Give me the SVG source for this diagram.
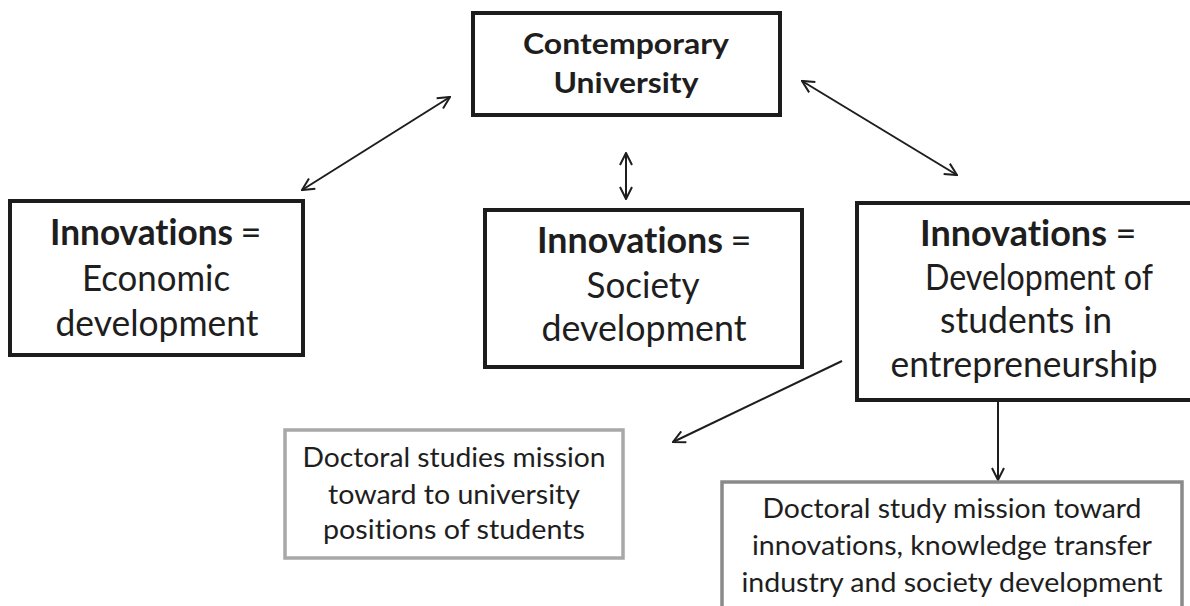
<svg xmlns="http://www.w3.org/2000/svg" width="1190" height="606" viewBox="0 0 1190 606">
<style>
.box{fill:#fff;stroke:#1c1c1c;stroke-width:4}
.gbox1{fill:#fff;stroke:#a8a8a8;stroke-width:3.5}
.gbox2{fill:#fff;stroke:#8a8a8a;stroke-width:3.5}
text{font-family:Lato,"Open Sans","Liberation Sans",sans-serif;fill:#1e1e1e;text-anchor:middle;font-variant-ligatures:none;font-feature-settings:"liga" 0}
.big{font-size:36px}
.top{font-size:28px;font-weight:bold}
.sm{font-size:26px}
.b{font-weight:bold;text-anchor:start}
.conn{stroke:#1e1e1e;stroke-width:2;fill:none}
</style>
<defs>
<marker id="ah" viewBox="0 0 14 14" refX="13" refY="7" markerWidth="14" markerHeight="14" markerUnits="userSpaceOnUse" orient="auto-start-reverse">
<path d="M1,1 L13,7 L1,13" fill="none" stroke="#1e1e1e" stroke-width="2"/>
</marker>
</defs>
<g id="connectors">
<line class="conn" x1="302" y1="190" x2="450" y2="97" marker-start="url(#ah)" marker-end="url(#ah)"/>
<line class="conn" x1="802" y1="81" x2="957" y2="175" marker-start="url(#ah)" marker-end="url(#ah)"/>
<line class="conn" x1="626" y1="153" x2="626" y2="199" marker-start="url(#ah)" marker-end="url(#ah)"/>
<line class="conn" x1="842" y1="361" x2="673" y2="442" marker-end="url(#ah)"/>
<line class="conn" x1="998" y1="402" x2="998" y2="480" marker-end="url(#ah)"/>
</g>
<g id="university">
<rect class="box" x="473" y="13" width="307" height="102"/>
<text class="top" x="626" y="54" textLength="206" lengthAdjust="spacingAndGlyphs">Contemporary</text>
<text class="top" x="626" y="93" textLength="145" lengthAdjust="spacingAndGlyphs">University</text>
</g>
<g id="economic">
<rect class="box" x="10" y="201" width="293" height="154"/>
<text class="big b" x="50" y="245" textLength="183" lengthAdjust="spacingAndGlyphs">Innovations</text>
<text class="big" x="251" y="245">=</text>
<text class="big" x="156" y="291" textLength="148" lengthAdjust="spacingAndGlyphs">Economic</text>
<text class="big" x="157" y="336" textLength="203" lengthAdjust="spacingAndGlyphs">development</text>
</g>
<g id="society">
<rect class="box" x="485" y="210" width="317" height="157"/>
<text class="big b" x="537" y="253" textLength="186" lengthAdjust="spacingAndGlyphs">Innovations</text>
<text class="big" x="741" y="253">=</text>
<text class="big" x="643" y="298" textLength="113" lengthAdjust="spacingAndGlyphs">Society</text>
<text class="big" x="644" y="341" textLength="205" lengthAdjust="spacingAndGlyphs">development</text>
</g>
<g id="entrepreneurship">
<rect class="box" x="857" y="203" width="340" height="197"/>
<text class="big b" x="920" y="246" textLength="187" lengthAdjust="spacingAndGlyphs">Innovations</text>
<text class="big" x="1126" y="246">=</text>
<text class="big" x="1039" y="290" textLength="228" lengthAdjust="spacingAndGlyphs">Development of</text>
<text class="big" x="1026" y="333" textLength="172" lengthAdjust="spacingAndGlyphs">students in</text>
<text class="big" x="1024" y="377" textLength="267" lengthAdjust="spacingAndGlyphs">entrepreneurship</text>
</g>
<g id="doctoral-positions">
<rect class="gbox1" x="285" y="430" width="338" height="128"/>
<text class="sm" x="454" y="467" textLength="303" lengthAdjust="spacingAndGlyphs">Doctoral studies mission</text>
<text class="sm" x="454" y="504" textLength="252" lengthAdjust="spacingAndGlyphs">toward to university</text>
<text class="sm" x="454" y="539" textLength="262" lengthAdjust="spacingAndGlyphs">positions of students</text>
</g>
<g id="doctoral-innovations">
<rect class="gbox2" x="722" y="482" width="460" height="140"/>
<text class="sm" x="952" y="518" textLength="379" lengthAdjust="spacingAndGlyphs">Doctoral study mission toward</text>
<text class="sm" x="952" y="555" textLength="400" lengthAdjust="spacingAndGlyphs">innovations, knowledge transfer</text>
<text class="sm" x="952" y="592" textLength="421" lengthAdjust="spacingAndGlyphs">industry and society development</text>
</g>
</svg>
